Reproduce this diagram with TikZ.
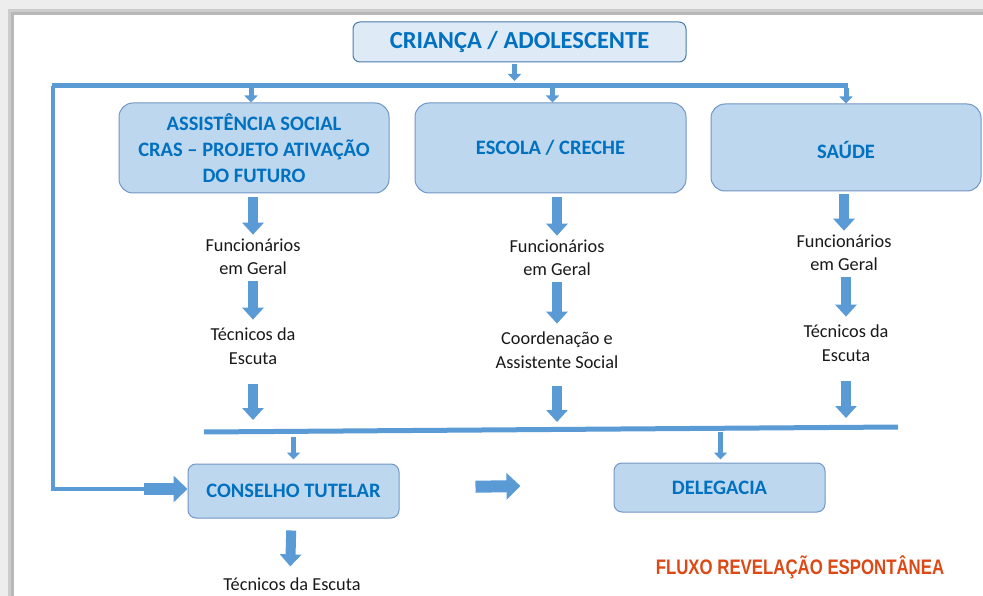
\documentclass[tikz,border=0pt]{standalone}
\usepackage{fontspec}
\setmainfont{Carlito}
\newfontfamily\narrowfont[FakeStretch=0.8]{Liberation Sans}
\usetikzlibrary{arrows.meta}
\definecolor{azulseta}{HTML}{5B9BD5}
\definecolor{azulcaixa}{HTML}{BDD7EE}
\definecolor{azulborda}{HTML}{7396C4}
\definecolor{azulclaro}{HTML}{DEEBF7}
\definecolor{azultexto}{HTML}{0070C0}
\definecolor{vermelho}{HTML}{DD4814}
\tikzset{
  caixa/.style={rectangle, rounded corners=14pt, draw=azulborda, fill=azulcaixa,
    line width=1pt, text=azultexto, align=center,
    font=\fontsize{20.5}{26}\selectfont\bfseries},
  etapa/.style={align=center, inner sep=0pt, text=black!90,
    font=\fontsize{18.3}{23.5}\selectfont},
  barra/.style={draw=azulseta, line width=5pt},
  setinha/.style={draw=azulseta, line width=5pt, -{Triangle[width=13pt,length=7pt]}},
  seta/.style={draw=azulseta, line width=10pt, -{Triangle[width=21pt,length=12pt]}},
  setona/.style={draw=azulseta, line width=12pt, -{Triangle[width=26pt,length=14pt]}},
}
\begin{document}
\begin{tikzpicture}[x=1pt,y=-1pt]
  \useasboundingbox (0,0) rectangle (983,596);
  \fill[black!7] (0,0) rectangle (983,596);
  \fill[black!20] (8,9) rectangle (983,596);
  \fill[black!28] (11,12) rectangle (983,596);
  \fill[white] (14,15) rectangle (983,596);

  \node[caixa, rounded corners=7pt, fill=azulclaro, draw=azulseta!80!black,
    minimum width=333pt, minimum height=40pt,
    font=\fontsize{24.5}{28}\selectfont\bfseries] (crianca) at (519.5,42)
    {CRIANÇA / ADOLESCENTE};
  \node[caixa, minimum width=270pt, minimum height=90pt] (assist) at (254,148)
    {ASSISTÊNCIA SOCIAL\\CRAS – PROJETO ATIVAÇÃO\\DO FUTURO};
  \node[caixa, minimum width=271pt, minimum height=90pt] (escola) at (550.5,148)
    {ESCOLA / CRECHE};
  \node[caixa, minimum width=270pt, minimum height=87pt] (saude) at (846,147.5)
    {\raisebox{-11pt}[0pt][0pt]{SAÚDE}};
  \node[caixa, rounded corners=8pt, minimum width=211pt, minimum height=54pt]
    (conselho) at (293.5,491) {CONSELHO TUTELAR};
  \node[caixa, rounded corners=8pt, minimum width=211pt, minimum height=49pt]
    (delegacia) at (719.5,487.5) {DELEGACIA};

  \node[etapa] (func1) at (253,257) {Funcionários\\em Geral};
  \node[etapa] (tec1) at (253,346) {Técnicos da\\Escuta};
  \node[etapa] (func2) at (557,258) {Funcionários\\em Geral};
  \node[etapa] (coord2) at (557,350) {Coordenação e\\Assistente Social};
  \node[etapa] (func3) at (844,253) {Funcionários\\em Geral};
  \node[etapa] (tec3) at (846,343) {Técnicos da\\Escuta};
  \node[etapa] (tec4) at (292,584) {Técnicos da Escuta};
  \node[text=vermelho, font=\fontsize{21}{24}\selectfont\narrowfont\bfseries]
    (fluxo) at (800,567) {FLUXO REVELAÇÃO ESPONTÂNEA};

  \coordinate (barraE) at (52,86);
  \coordinate (barraD) at (848,86);
  \coordinate (linhaE) at (204,432);
  \coordinate (linhaD) at (898,427);

  \draw[setinha, shorten <=2pt, shorten >=5pt] ([xshift=-5pt]crianca.south) -- ([xshift=-5pt]crianca.south |- barraE);
  \draw[barra] (barraD) -- (barraE);
  \draw[azulseta, line width=4pt] ([xshift=1pt]barraE) |- ([xshift=-43pt,yshift=2pt]conselho.west);
  \draw[setona] ([xshift=-44pt,yshift=2pt]conselho.west) -- ([yshift=2pt]conselho.west);
  \draw[setinha, shorten <=2pt] ([xshift=-3pt]assist.north |- barraE) -- ([xshift=-3pt]assist.north);
  \draw[setinha, shorten <=2pt] ([xshift=2pt]escola.north |- barraE) -- ([xshift=2pt]escola.north);
  \draw[setinha, shorten <=2pt] (saude.north |- barraE) -- (saude.north);

  \draw[seta, shorten <=4pt, shorten >=4pt] (assist.south -| func1) -- (func1);
  \draw[seta, shorten <=6pt, shorten >=8pt] (func1.south) -- (func1.south |- tec1.north);
  \draw[seta, shorten <=20pt, shorten >=12pt] (tec1) -- (tec1 |- linhaE);
  \draw[seta, shorten <=4pt, shorten >=4pt] (escola.south -| func2) -- (func2);
  \draw[seta, shorten <=6pt, shorten >=8pt] (func2) -- (coord2);
  \draw[seta, shorten <=18pt, shorten >=10pt] (coord2) -- (coord2 |- linhaE);
  \draw[seta, shorten <=3pt, shorten >=4pt] (saude.south -| func3) -- (func3);
  \draw[seta, shorten <=6pt, shorten >=8pt] ([xshift=2pt]func3.south) -- ([xshift=2pt]func3.south |- tec3.north);
  \draw[seta, shorten <=20pt, shorten >=9pt] (tec3) -- (tec3 |- linhaD);

  \draw[barra] (linhaE) -- (linhaD);
  \draw[setinha, shorten <=5pt, shorten >=4pt] (conselho.north |- linhaE) -- (conselho.north);
  \draw[setinha, shorten <=5pt, shorten >=3pt] ([xshift=1pt]delegacia.north |- linhaD) -- ([xshift=1pt]delegacia.north);
  \draw[setona, shorten <=76pt, shorten >=93pt] ([yshift=3pt]conselho.east) -- ([yshift=3pt]delegacia.west);
  \draw[seta, shorten <=12pt, shorten >=11pt] ([xshift=-2pt]conselho.south) -- ([xshift=-2pt]tec4.north);
\end{tikzpicture}
\end{document}
